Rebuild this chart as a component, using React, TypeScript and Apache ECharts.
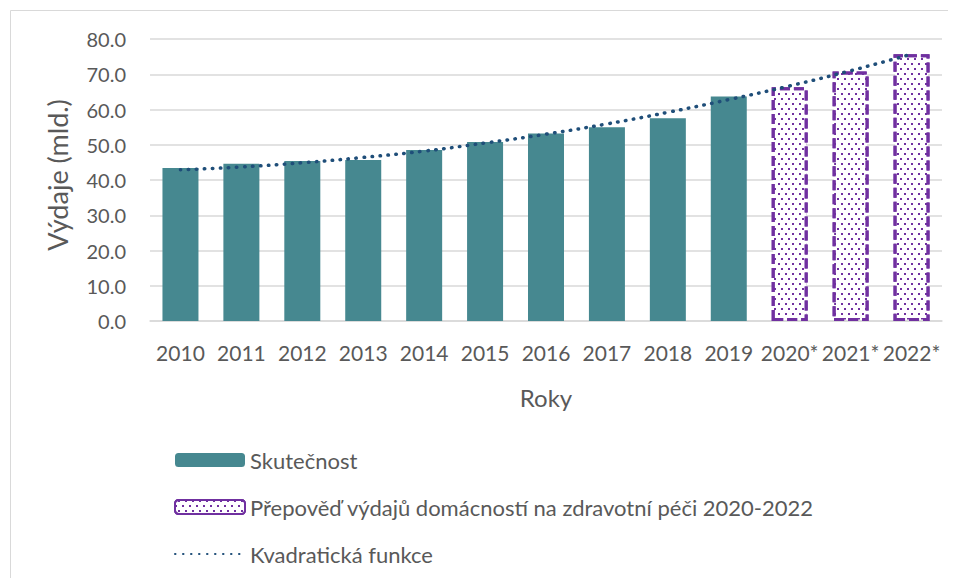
import React, { useEffect, useRef } from "react";
import * as echarts from "echarts";

const categories = ["2010", "2011", "2012", "2013", "2014", "2015", "2016", "2017", "2018", "2019", "2020*", "2021*", "2022*"];
const actualValues = [43.4, 44.6, 45.4, 45.7, 48.5, 50.8, 53.2, 55.0, 57.5, 63.7, null, null, null];
const forecastValues = [null, null, null, null, null, null, null, null, null, null, 66.3, 70.8, 75.7];
const trendValues = [42.9, 43.7, 44.9, 46.4, 48.2, 50.5, 53.0, 55.9, 59.2, 62.8, 66.7, 71.0, 75.7];
const yTicks = { min: 0, max: 80, interval: 10 };

const FONT = "Lato";
const TXT = "#595959";

export default function App() {
  const ref = useRef<HTMLDivElement>(null);
  useEffect(() => {
    if (!ref.current) return;
    const chart = echarts.init(ref.current, null, { renderer: "svg" });
    chart.setOption({
      animation: false,
      textStyle: { fontFamily: FONT },
      graphic: [
        {
          type: "rect",
          shape: { x: 2.5, y: 2.5, width: 1000, height: 700 },
          style: { fill: "none", stroke: "#d9d9d9", lineWidth: 1 },
          silent: true,
        },
      ],
      grid: { left: 142, right: 14, top: 31, bottom: 257 },
      legend: {
        orient: "vertical",
        left: 161,
        top: 436,
        itemWidth: 70,
        itemHeight: 14,
        itemGap: 25,
        textStyle: { fontFamily: FONT, fontSize: 22, color: TXT, lineHeight: 20 },
        data: [
          "Skutečnost",
          "Přepověď výdajů domácností na zdravotní péči 2020-2022",
          { name: "Kvadratická funkce", itemStyle: { opacity: 0 } },
        ],
      },
      xAxis: {
        type: "category",
        data: categories,
        name: "Roky",
        nameLocation: "middle",
        nameGap: 64,
        nameTextStyle: { fontFamily: FONT, fontSize: 24, color: TXT },
        axisLine: { show: true, lineStyle: { color: "#d9d9d9", width: 1.5 } },
        axisTick: { show: false },
        axisLabel: { fontFamily: FONT, fontSize: 21, color: TXT, margin: 21, interval: 0 },
      },
      yAxis: {
        type: "value",
        min: yTicks.min,
        max: yTicks.max,
        interval: yTicks.interval,
        name: "Výdaje (mld.)",
        nameLocation: "middle",
        nameGap: 79,
        nameRotate: 90,
        nameTextStyle: { fontFamily: FONT, fontSize: 27, color: TXT, padding: [0, 0, 0, 10] },
        axisLine: { show: false },
        axisTick: { show: false },
        splitLine: { lineStyle: { color: "#d9d9d9", width: 1.5 } },
        axisLabel: {
          fontFamily: FONT,
          fontSize: 20,
          color: TXT,
          margin: 24,
          formatter: (v: number) => v.toFixed(1),
        },
      },
      series: [
        {
          name: "Skutečnost",
          type: "bar",
          data: actualValues,
          barWidth: 36,
          barGap: "-100%",
          itemStyle: { color: "#468890" },
        },
        {
          name: "Přepověď výdajů domácností na zdravotní péči 2020-2022",
          type: "bar",
          data: forecastValues,
          barWidth: 36,
          barGap: "-100%",
          itemStyle: {
            color: "#ffffff",
            borderColor: "#7030a0",
            borderWidth: 3,
            borderType: [10, 4],
            decal: {
              symbol: "rect",
              symbolSize: 1,
              color: "#7030a0",
              backgroundColor: "#ffffff",
              dashArrayY: [1.5, 2.5],
              dashArrayX: [
                [1.5, 4.5],
                [0, 3, 1.5, 1.5],
              ],
            },
          },
        },
        {
          name: "Kvadratická funkce",
          type: "line",
          data: trendValues,
          smooth: true,
          symbol: "none",
          z: 5,
          lineStyle: { color: "#1f4e79", width: 3.5, type: [0.5, 7.5], cap: "round" },
          itemStyle: { color: "#1f4e79" },
        },
      ],
    });
    return () => chart.dispose();
  }, []);
  return <div ref={ref} style={{ width: 948, height: 570 }} />;
}
